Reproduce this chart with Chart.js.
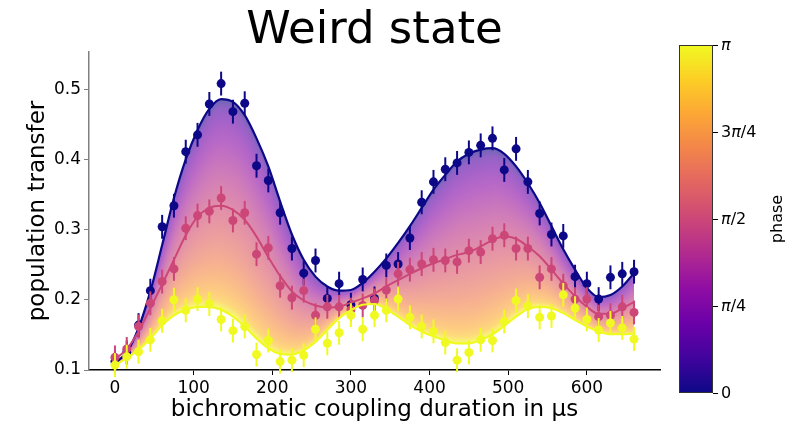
<!DOCTYPE html>
<html>
<head>
<meta charset="utf-8">
<script src="https://cdn.jsdelivr.net/npm/chart.js@4.4.0/dist/chart.umd.min.js"></script>
<style>
  html, body { margin: 0; padding: 0; background: #fff; }
  #wrap { width: 805px; height: 429px; }
</style>
</head>
<body>
<div id="wrap"><canvas id="chart" width="805" height="429"></canvas></div>
<script>
// coupling durations in µs
const times = [0, 15, 30, 45, 60, 75, 90, 105, 120, 135, 150, 165, 180, 195, 210, 225, 240, 255, 270, 285, 300, 315, 330, 345, 360, 375, 390, 405, 420, 435, 450, 465, 480, 495, 510, 525, 540, 555, 570, 585, 600, 615, 630, 645, 660];

// measured population transfer for phase 0, pi/2, pi
const popPhase0 = [0.112, 0.125, 0.164, 0.213, 0.304, 0.334, 0.411, 0.435, 0.479, 0.508, 0.468, 0.480, 0.391, 0.370, 0.324, 0.273, 0.238, 0.256, 0.202, 0.223, 0.193, 0.229, 0.202, 0.249, 0.251, 0.288, 0.339, 0.368, 0.386, 0.395, 0.410, 0.420, 0.430, 0.385, 0.415, 0.368, 0.323, 0.293, 0.291, 0.233, 0.223, 0.201, 0.232, 0.237, 0.240];
const popPhaseHalf = [0.118, 0.130, 0.162, 0.195, 0.226, 0.244, 0.302, 0.320, 0.326, 0.345, 0.313, 0.324, 0.265, 0.274, 0.220, 0.203, 0.213, 0.178, 0.190, 0.190, 0.186, 0.192, 0.199, 0.214, 0.237, 0.243, 0.251, 0.257, 0.256, 0.254, 0.270, 0.268, 0.287, 0.292, 0.273, 0.273, 0.232, 0.244, 0.220, 0.201, 0.201, 0.176, 0.178, 0.190, 0.182];
const popPhasePi = [0.107, 0.119, 0.126, 0.143, 0.170, 0.200, 0.185, 0.201, 0.194, 0.172, 0.156, 0.162, 0.122, 0.142, 0.112, 0.114, 0.121, 0.158, 0.138, 0.153, 0.178, 0.158, 0.178, 0.185, 0.201, 0.175, 0.162, 0.155, 0.139, 0.114, 0.125, 0.143, 0.142, 0.169, 0.199, 0.191, 0.175, 0.177, 0.207, 0.188, 0.172, 0.157, 0.167, 0.160, 0.144];
const popError = 0.017;

// fitted curves, read at the same durations
const fitPhase0 = [0.110, 0.125, 0.160, 0.212, 0.278, 0.345, 0.400, 0.442, 0.472, 0.486, 0.482, 0.463, 0.430, 0.390, 0.340, 0.293, 0.257, 0.233, 0.219, 0.213, 0.214, 0.224, 0.240, 0.259, 0.281, 0.305, 0.331, 0.357, 0.378, 0.397, 0.408, 0.414, 0.416, 0.408, 0.390, 0.366, 0.338, 0.305, 0.272, 0.243, 0.217, 0.204, 0.207, 0.219, 0.238];
const fitPhaseHalf = [0.115, 0.130, 0.155, 0.188, 0.222, 0.257, 0.292, 0.318, 0.331, 0.334, 0.328, 0.314, 0.290, 0.261, 0.234, 0.212, 0.199, 0.192, 0.189, 0.190, 0.196, 0.202, 0.209, 0.219, 0.228, 0.237, 0.245, 0.252, 0.258, 0.264, 0.268, 0.276, 0.285, 0.290, 0.287, 0.276, 0.262, 0.243, 0.223, 0.205, 0.190, 0.180, 0.180, 0.188, 0.197];
const fitPhasePi = [0.107, 0.117, 0.129, 0.145, 0.164, 0.178, 0.186, 0.190, 0.190, 0.186, 0.176, 0.162, 0.145, 0.131, 0.123, 0.122, 0.128, 0.140, 0.157, 0.174, 0.185, 0.193, 0.194, 0.187, 0.176, 0.164, 0.155, 0.148, 0.142, 0.138, 0.138, 0.143, 0.151, 0.163, 0.176, 0.187, 0.190, 0.188, 0.181, 0.171, 0.162, 0.155, 0.151, 0.151, 0.152];

// tick labels
const xTicks = [0, 100, 200, 300, 400, 500, 600];
const yTicks = [0.1, 0.2, 0.3, 0.4, 0.5];
const phaseTickLabels = ['0', 'π/4', 'π/2', '3π/4', 'π'];

// matplotlib "plasma" colormap, sampled every 0.1
const PLASMA = ['#0d0887', '#41049d', '#6a00a8', '#8f0da4', '#b12a90', '#cc4778', '#e16462', '#f2844b', '#fca636', '#fcce25', '#f0f921'];

function hexToRgb(h) {
    return [parseInt(h.substr(1, 2), 16), parseInt(h.substr(3, 2), 16), parseInt(h.substr(5, 2), 16)];
}

function plasma(f, alpha) {
    f = Math.max(0, Math.min(1, f));
    const pos = f * (PLASMA.length - 1);
    const i = Math.min(Math.floor(pos), PLASMA.length - 2);
    const t = pos - i;
    const a = hexToRgb(PLASMA[i]);
    const b = hexToRgb(PLASMA[i + 1]);
    const c = a.map((v, k) => Math.round(v + (b[k] - v) * t));
    return 'rgba(' + c[0] + ',' + c[1] + ',' + c[2] + ',' + (alpha === undefined ? 1 : alpha) + ')';
}

const FONT = "'DejaVu Sans', sans-serif";
const colPhase0 = plasma(0);
const colPhaseHalf = plasma(0.5);
const colPhasePi = plasma(1);

function points(ys) {
    return times.map((t, i) => ({ x: t, y: ys[i] }));
}

// fill between the phase 0 and phase pi fits, coloured by phase
const phaseFill = {
    id: 'phaseFill',
    beforeDatasetsDraw(chart) {
        const top = chart.getDatasetMeta(0).dataset;
        const bot = chart.getDatasetMeta(4).dataset;
        top.updateControlPoints(chart.chartArea, 'x');
        bot.updateControlPoints(chart.chartArea, 'x');
        const pts = top.points;
        const x0 = Math.ceil(pts[0].x);
        const x1 = Math.floor(pts[pts.length - 1].x);
        const ctx = chart.ctx;
        ctx.save();
        for (let px = x0; px < x1; px++) {
            const a = top.interpolate({ x: px + 0.5 }, 'x');
            const b = bot.interpolate({ x: px + 0.5 }, 'x');
            if (!a || !b || Math.abs(b.y - a.y) < 0.5) continue;
            const g = ctx.createLinearGradient(0, a.y, 0, b.y);
            for (let k = 0; k <= 24; k++) {
                const lam = k / 24;
                // a curve of phase phi sits at (1 - cos phi) / 2 between the two fits
                const f = Math.acos(1 - 2 * lam) / Math.PI;
                g.addColorStop(lam, plasma(f, 0.62));
            }
            ctx.fillStyle = g;
            ctx.fillRect(px, Math.min(a.y, b.y), 1, Math.abs(b.y - a.y));
        }
        ctx.restore();
    }
};

// vertical error bars under each scatter set
const errorBars = {
    id: 'errorBars',
    beforeDatasetDraw(chart, args) {
        const ds = chart.data.datasets[args.index];
        if (ds.errorBar === undefined) return;
        const { ctx, scales: { x, y } } = chart;
        ctx.save();
        ctx.strokeStyle = ds.backgroundColor;
        ctx.lineWidth = 2;
        ds.data.forEach(p => {
            const px = x.getPixelForValue(p.x);
            ctx.beginPath();
            ctx.moveTo(px, y.getPixelForValue(p.y - ds.errorBar));
            ctx.lineTo(px, y.getPixelForValue(p.y + ds.errorBar));
            ctx.stroke();
        });
        ctx.restore();
    }
};

// title centred over the plot area
const plotTitle = {
    id: 'plotTitle',
    afterDraw(chart) {
        const { ctx, chartArea } = chart;
        ctx.save();
        ctx.fillStyle = '#000';
        ctx.font = '45px ' + FONT;
        ctx.textAlign = 'center';
        ctx.textBaseline = 'alphabetic';
        ctx.fillText('Weird state', (chartArea.left + chartArea.right) / 2, 43);
        ctx.restore();
    }
};

// draw text, with pi set in italic like matplotlib mathtext
function drawMixed(ctx, text, x, y, size) {
    let cx = x;
    for (const ch of text) {
        ctx.font = (ch === 'π' ? 'italic ' : '') + size + 'px ' + FONT;
        ctx.fillText(ch, cx, y);
        cx += ctx.measureText(ch).width;
    }
}

// colour bar on the right
const colorBar = {
    id: 'colorBar',
    afterDraw(chart) {
        const ctx = chart.ctx;
        const L = 679, R = 713, T = 45, B = 393;
        ctx.save();
        const g = ctx.createLinearGradient(0, B, 0, T);
        for (let k = 0; k <= 20; k++) g.addColorStop(k / 20, plasma(k / 20));
        ctx.fillStyle = g;
        ctx.fillRect(L, T, R - L, B - T);
        ctx.strokeStyle = '#333';
        ctx.lineWidth = 1;
        ctx.strokeRect(L + 0.5, T + 0.5, R - L - 1, B - T - 1);

        ctx.fillStyle = '#000';
        ctx.strokeStyle = '#000';
        ctx.textBaseline = 'middle';
        ctx.textAlign = 'left';
        phaseTickLabels.forEach((lab, i) => {
            const yy = Math.round(B - (B - T) * i / (phaseTickLabels.length - 1)) + 0.5;
            ctx.beginPath();
            ctx.moveTo(R, yy);
            ctx.lineTo(R + 5, yy);
            ctx.stroke();
            drawMixed(ctx, lab, R + 8, yy, 16);
        });

        ctx.translate(778, (T + B) / 2);
        ctx.rotate(-Math.PI / 2);
        ctx.textAlign = 'center';
        ctx.font = '16px ' + FONT;
        ctx.fillText('phase', 0, 0);
        ctx.restore();
    }
};

const chart = new Chart(document.getElementById('chart'), {
    data: {
        datasets: [
            { type: 'line', data: points(fitPhase0), borderColor: colPhase0, borderWidth: 2.2, pointRadius: 0, cubicInterpolationMode: 'monotone', fill: false, order: 6 },
            { type: 'scatter', data: points(popPhase0), backgroundColor: colPhase0, borderWidth: 0, pointRadius: 4.5, errorBar: popError, order: 5 },
            { type: 'line', data: points(fitPhaseHalf), borderColor: colPhaseHalf, borderWidth: 2, pointRadius: 0, cubicInterpolationMode: 'monotone', fill: false, order: 4 },
            { type: 'scatter', data: points(popPhaseHalf), backgroundColor: colPhaseHalf, borderWidth: 0, pointRadius: 4.5, errorBar: popError, order: 3 },
            { type: 'line', data: points(fitPhasePi), borderColor: colPhasePi, borderWidth: 2.2, pointRadius: 0, cubicInterpolationMode: 'monotone', fill: false, order: 2 },
            { type: 'scatter', data: points(popPhasePi), backgroundColor: colPhasePi, borderWidth: 0, pointRadius: 4.5, errorBar: popError, order: 1 }
        ]
    },
    options: {
        responsive: false,
        animation: false,
        layout: { padding: { top: 52, right: 145, bottom: 0, left: 0 } },
        plugins: {
            legend: { display: false },
            tooltip: { enabled: false },
            title: { display: false }
        },
        scales: {
            x: {
                type: 'linear',
                min: -33,
                max: 693,
                afterBuildTicks: s => { s.ticks = xTicks.map(v => ({ value: v })); },
                afterFit: s => { s.height = 59; },
                grid: { display: true, drawOnChartArea: false, drawTicks: true, tickLength: 5, color: '#000', lineWidth: 1 },
                border: { display: true, color: '#000', width: 1.5 },
                ticks: { color: '#000', padding: 3, maxRotation: 0, font: { family: FONT, size: 17 } },
                title: {
                    display: true,
                    text: 'bichromatic coupling duration in µs',
                    color: '#000',
                    font: { family: FONT, size: 23 },
                    padding: { top: 0, bottom: 5 }
                }
            },
            y: {
                type: 'linear',
                min: 0.1,
                max: 0.553,
                afterBuildTicks: s => { s.ticks = yTicks.map(v => ({ value: v })); },
                afterFit: s => { s.width = 89; },
                grid: { display: true, drawOnChartArea: false, drawTicks: true, tickLength: 5, color: '#808080', lineWidth: 1 },
                border: { display: true, color: '#808080', width: 1.5 },
                ticks: { color: '#000', padding: 3, font: { family: FONT, size: 17 }, callback: v => v.toFixed(1) },
                title: {
                    display: true,
                    text: 'population transfer',
                    color: '#000',
                    font: { family: FONT, size: 23 },
                    padding: { top: 24, bottom: 0 }
                }
            }
        }
    },
    plugins: [phaseFill, errorBars, plotTitle, colorBar]
});
</script>
</body>
</html>
